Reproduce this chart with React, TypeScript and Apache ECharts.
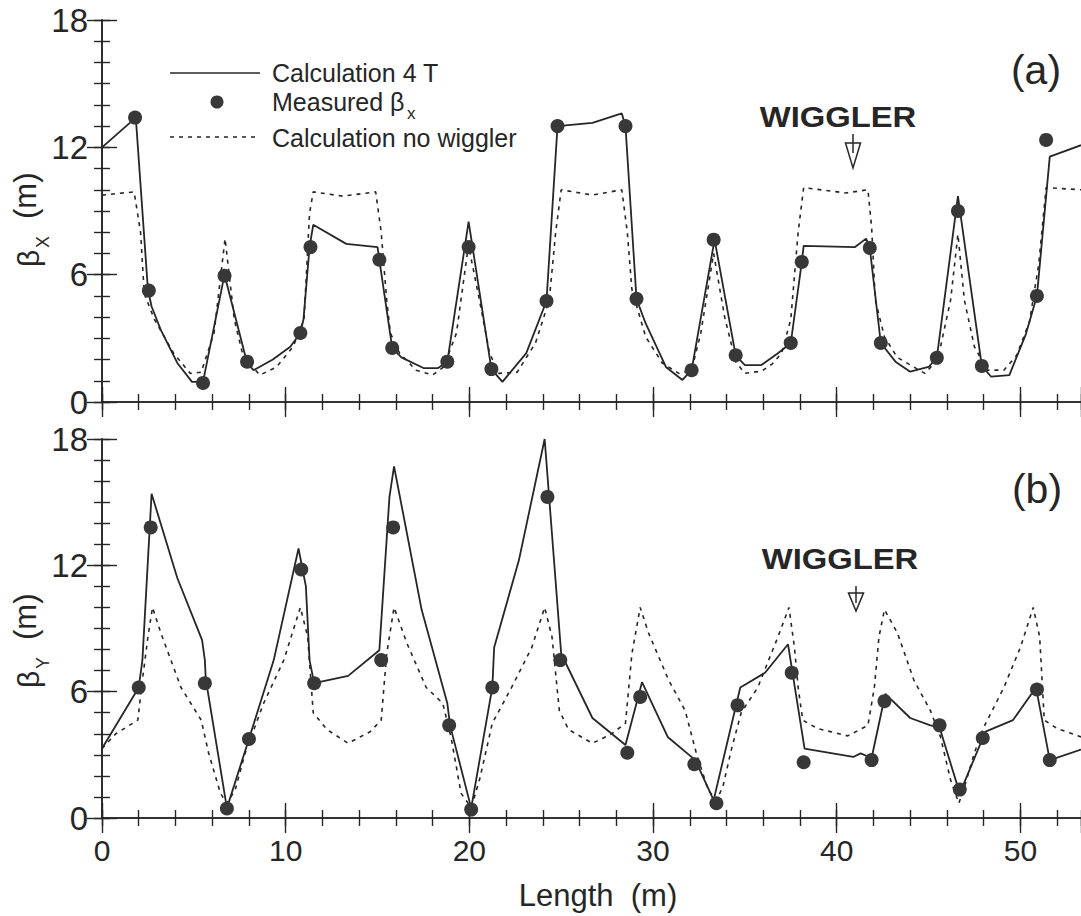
import React, { useEffect, useRef } from 'react';
import * as echarts from 'echarts';

// ---------- data ----------
const X_MAX = 53.3;
const xMajorInterval = 10;
const xMinorInterval = 2;
const yMax = 18;
const yMajorInterval = 6;
const yMinorInterval = 1;

// Panel (a): beta_x
const calcAx: [number, number][] = [
  [0, 12.0], [1.84, 13.4], [2.5, 5.3], [2.7, 4.5], [3.2, 3.4], [4.1, 1.84], [4.9, 0.95], [5.5, 0.95],
  [6.67, 6.0], [7.9, 1.84], [8.25, 1.5], [9.3, 2.0], [10.25, 2.6], [10.8, 3.25], [10.97, 3.9],
  [11.3, 7.3], [11.5, 8.35], [13.3, 7.45], [15.0, 7.3], [15.1, 6.7], [15.8, 2.55], [16.3, 2.1],
  [17.5, 1.6], [18.3, 1.6], [18.8, 1.9], [19.96, 8.5], [21.2, 1.55], [21.8, 0.95], [23.1, 2.3],
  [24.2, 4.76], [24.8, 13.0], [26.7, 13.15], [28.3, 13.6], [28.5, 13.0], [29.1, 4.86], [29.6, 3.7],
  [30.7, 1.65], [31.6, 1.04], [32.1, 1.5], [33.35, 7.65], [34.5, 2.2], [35.0, 1.74], [35.9, 1.74],
  [36.8, 2.3], [37.5, 2.78], [38.1, 6.6], [38.2, 7.36], [41.0, 7.3], [41.6, 7.7], [41.8, 7.26],
  [42.4, 2.78], [43.2, 1.9], [44.0, 1.43], [45.0, 1.65], [45.45, 2.08], [46.6, 9.7], [47.9, 1.7],
  [48.4, 1.2], [49.4, 1.27], [50.3, 3.2], [50.9, 5.0], [51.6, 11.56], [53.3, 12.1],
];
const measAx: [number, number][] = [
  [1.8, 13.4], [2.55, 5.25], [5.5, 0.9], [6.67, 5.95], [7.9, 1.9], [10.8, 3.25], [11.35, 7.3],
  [15.1, 6.7], [15.8, 2.55], [18.8, 1.9], [19.96, 7.3], [21.2, 1.55], [24.2, 4.76], [24.8, 13.0],
  [28.5, 13.0], [29.1, 4.86], [32.1, 1.5], [33.3, 7.65], [34.5, 2.2], [37.5, 2.78], [38.1, 6.6],
  [41.8, 7.26], [42.4, 2.78], [45.45, 2.08], [46.6, 9.0], [47.9, 1.7], [50.9, 5.0], [51.4, 12.35],
];
const noWigAx: [number, number][] = [
  [0, 9.75], [1.75, 9.9], [2.1, 8.0], [2.3, 5.1], [2.85, 3.9], [3.9, 2.3], [4.8, 1.35], [5.4, 1.4],
  [6.1, 3.25], [6.7, 7.7], [7.2, 3.9], [7.7, 2.1], [8.6, 1.27], [9.5, 1.65], [10.4, 2.6], [11.0, 3.9],
  [11.3, 8.9], [11.5, 9.9], [13.1, 9.7], [14.9, 9.9], [15.2, 8.0], [15.5, 4.8], [15.7, 3.25],
  [16.2, 2.3], [17.1, 1.5], [18.0, 1.27], [18.6, 1.65], [19.3, 3.25], [19.95, 7.4], [20.55, 4.8],
  [21.1, 2.3], [21.6, 1.35], [22.6, 1.4], [23.6, 2.78], [24.35, 4.8], [24.7, 8.0], [25.0, 10.0],
  [26.7, 9.75], [28.3, 10.0], [28.6, 8.0], [28.85, 5.3], [29.6, 3.07], [30.5, 1.84], [31.4, 1.35],
  [32.1, 1.5], [32.6, 3.25], [33.3, 7.0], [33.9, 4.0], [34.5, 1.9], [35.0, 1.35], [35.9, 1.45],
  [36.5, 1.8], [37.0, 2.3], [37.5, 3.9], [37.9, 8.0], [38.2, 10.1], [40.5, 9.85], [41.7, 10.0],
  [41.9, 8.25], [42.1, 4.8], [42.6, 3.07], [43.3, 2.1], [44.8, 1.35], [45.5, 2.0], [46.2, 4.8],
  [46.6, 7.9], [46.95, 4.8], [47.5, 2.6], [48.2, 1.5], [49.1, 1.5], [49.8, 2.2], [50.5, 3.8],
  [51.0, 6.5], [51.4, 10.1], [53.3, 10.0],
];

// Panel (b): beta_y
const calcBy: [number, number][] = [
  [0, 3.3], [2.0, 6.2], [2.2, 7.5], [2.7, 15.4], [4.1, 11.4], [5.45, 8.45], [5.6, 7.5], [5.65, 6.6],
  [6.8, 0.47], [8.0, 3.75], [9.35, 7.5], [10.7, 12.8], [11.1, 11.0], [11.3, 7.5], [11.55, 6.4],
  [13.4, 6.75], [15.1, 7.97], [15.65, 15.25], [15.9, 16.7], [17.4, 9.9], [18.8, 5.45], [18.95, 4.4],
  [20.1, 0.47], [21.25, 6.2], [21.35, 8.1], [22.7, 12.25], [24.1, 18.0], [25.0, 7.8], [26.7, 4.75],
  [28.5, 3.47], [29.4, 6.45], [30.8, 3.85], [32.3, 2.75], [33.3, 0.85], [34.75, 6.2], [36.1, 6.9],
  [37.35, 8.25], [38.25, 3.3], [40.9, 2.9], [41.3, 3.07], [41.9, 2.85], [42.65, 5.9], [44.0, 4.75],
  [45.1, 4.4], [45.6, 4.3], [46.7, 1.17], [48.1, 4.1], [49.6, 4.65], [50.85, 6.2], [51.6, 2.75],
  [53.3, 3.25],
];
const measBy: [number, number][] = [
  [2.0, 6.2], [2.65, 13.8], [5.6, 6.4], [6.8, 0.45], [8.0, 3.75], [10.85, 11.8], [11.55, 6.4],
  [15.2, 7.5], [15.85, 13.8], [18.9, 4.4], [20.1, 0.4], [21.25, 6.2], [24.25, 15.25], [24.95, 7.5],
  [28.6, 3.1], [29.3, 5.75], [32.25, 2.55], [33.45, 0.7], [34.6, 5.35], [37.55, 6.9], [38.2, 2.65],
  [41.9, 2.75], [42.6, 5.55], [45.6, 4.4], [46.7, 1.35], [47.95, 3.8], [50.9, 6.1], [51.6, 2.75],
];
const noWigBy: [number, number][] = [
  [0, 3.3], [0.75, 4.0], [1.95, 4.65], [2.2, 6.55], [2.5, 8.6], [2.75, 10.0], [3.2, 8.8], [4.3, 6.2],
  [5.4, 4.65], [5.8, 3.1], [6.45, 1.17], [6.8, 0.7], [7.25, 1.33], [7.8, 3.1], [8.8, 5.45], [9.9, 7.5],
  [10.8, 10.0], [11.2, 8.6], [11.5, 5.0], [12.25, 4.2], [13.4, 3.55], [14.6, 4.1], [15.2, 4.65],
  [15.5, 7.8], [15.9, 10.0], [16.6, 8.3], [17.65, 6.2], [18.55, 5.45], [19.0, 3.85], [19.55, 1.17],
  [20.1, 0.5], [20.55, 1.8], [21.25, 4.5], [22.3, 6.2], [23.4, 8.1], [24.1, 10.0], [24.5, 8.6],
  [24.9, 5.1], [25.4, 4.2], [26.7, 3.55], [27.75, 4.0], [28.5, 4.5], [28.85, 7.8], [29.3, 10.0],
  [29.75, 8.8], [30.85, 6.55], [31.75, 5.1], [32.35, 3.1], [33.0, 1.33], [33.45, 0.85], [33.8, 1.47],
  [34.25, 3.2], [34.8, 5.0], [35.7, 6.2], [36.8, 8.6], [37.4, 10.0], [37.7, 8.1], [37.9, 6.2],
  [38.15, 4.65], [38.95, 4.25], [40.6, 3.9], [41.7, 4.4], [42.05, 6.2], [42.3, 8.6], [42.6, 9.9],
  [43.3, 8.8], [44.2, 6.55], [45.1, 5.1], [45.65, 3.85], [46.2, 1.8], [46.65, 0.7], [46.95, 1.47],
  [47.5, 3.1], [48.0, 4.3], [49.1, 6.2], [50.0, 8.1], [50.7, 10.0], [51.05, 8.6], [51.3, 4.65],
  [52.0, 4.25], [53.3, 3.85],
];

const legendNames = ['Calculation 4 T', 'Measured β', 'Calculation no wiggler'];
const panelLabels = ['(a)', '(b)'];
const yNames = [['β', 'X'], ['β', 'Y']];
const xName = 'Length  (m)';
const annotation = 'WIGGLER';

// ---------- styling ----------
const FONT = "'Liberation Sans', Arial, Helvetica, sans-serif";
const INK = '#262626';
const DOT = '#383838';

function buildOption() {
  const grids = [
    { left: 102, top: 20, width: X_MAX * 18.42, height: 382 },
    { left: 102, top: 439, width: X_MAX * 18.42, height: 379 },
  ];

  const axisLine = { show: true, lineStyle: { color: INK, width: 1.6 } };
  const tickStyle = { color: INK, width: 1.4 };

  const xAxes: any[] = [];
  grids.forEach((_, gi) => {
    const base = { type: 'value', gridIndex: gi, min: 0, max: X_MAX, splitLine: { show: false } };
    for (const pos of ['bottom', 'top']) {
      const showLabels = gi === 1 && pos === 'bottom';
      xAxes.push({
        ...base,
        position: pos,
        interval: xMajorInterval,
        axisLine,
        axisTick: { show: true, inside: true, length: 15, lineStyle: tickStyle },
        axisLabel: showLabels
          ? {
              show: true,
              margin: 17,
              fontSize: 30,
              fontFamily: FONT,
              color: INK,
              showMaxLabel: false,
              formatter: (v: number) => (Math.abs(v % 10) < 1e-6 ? String(v) : ''),
            }
          : { show: false },
      });
      xAxes.push({
        ...base,
        position: pos,
        interval: xMinorInterval,
        axisLine: { show: false },
        axisTick: { show: true, inside: true, length: 8, lineStyle: tickStyle },
        axisLabel: { show: false },
      });
    }
  });

  const yAxes: any[] = [];
  grids.forEach((_, gi) => {
    const base = { type: 'value', gridIndex: gi, min: 0, max: yMax, splitLine: { show: false } };
    for (const pos of ['left', 'right']) {
      yAxes.push({
        ...base,
        position: pos,
        interval: yMajorInterval,
        axisLine,
        axisTick: { show: true, inside: true, length: 15, lineStyle: tickStyle },
        axisLabel:
          pos === 'left'
            ? { show: true, margin: 14, fontSize: 33, fontFamily: FONT, color: INK }
            : { show: false },
      });
      yAxes.push({
        ...base,
        position: pos,
        interval: yMinorInterval,
        axisLine: { show: false },
        axisTick: { show: true, inside: true, length: 8, lineStyle: tickStyle },
        axisLabel: { show: false },
      });
    }
  });

  const mkSeries = (calc: any, meas: any, noWig: any, xi: number, yi: number) => [
    {
      name: legendNames[2],
      type: 'line',
      xAxisIndex: xi,
      yAxisIndex: yi,
      data: noWig,
      symbol: 'none',
      lineStyle: { color: INK, width: 1.6, type: [4, 5] },
      z: 2,
    },
    {
      name: legendNames[0],
      type: 'line',
      xAxisIndex: xi,
      yAxisIndex: yi,
      data: calc,
      symbol: 'none',
      lineStyle: { color: INK, width: 1.8 },
      z: 3,
    },
    {
      name: legendNames[1],
      type: 'scatter',
      xAxisIndex: xi,
      yAxisIndex: yi,
      data: meas,
      symbol: 'circle',
      symbolSize: 14,
      itemStyle: { color: DOT, opacity: 1 },
      z: 4,
    },
  ];

  const txt = (text: string, x: number, y: number, size: number, extra: any = {}, elExtra: any = {}) => ({
    type: 'text',
    x,
    y,
    ...elExtra,
    style: {
      text,
      x: 0,
      y: 0,
      fontSize: size,
      fontFamily: FONT,
      fill: INK,
      align: 'left',
      textAlign: 'left',
      verticalAlign: 'middle',
      textVerticalAlign: 'middle',
      ...extra,
    },
    z: 10,
  });

  const arrow = (cx: number, top: number, headTop: number, tip: number) => [
    {
      type: 'polygon',
      shape: { points: [[cx - 7.5, headTop], [cx + 7.5, headTop], [cx, tip]] },
      style: { fill: '#fff', stroke: INK, lineWidth: 1.5 },
      z: 10,
    },
    {
      type: 'line',
      shape: { x1: cx, y1: top, x2: cx, y2: headTop + 10 },
      style: { stroke: INK, lineWidth: 1.5 },
      z: 11,
    },
  ];

  const yLabel = (names: string[], originY: number) => ({
    type: 'group',
    x: 0,
    y: originY,
    rotation: Math.PI / 2,
    children: [
      txt(names[0], 0, 28, 30),
      txt(names[1], 19, 43, 18),
      txt('(m)', 48, 25, 31),
    ],
    z: 10,
  });

  const graphic: any[] = [
    // legend
    { type: 'line', shape: { x1: 170, y1: 73, x2: 260, y2: 73 }, style: { stroke: INK, lineWidth: 1.6 }, z: 10 },
    { type: 'circle', shape: { cx: 217, cy: 102, r: 6.5 }, style: { fill: DOT }, z: 10 },
    {
      type: 'line',
      shape: { x1: 170, y1: 137, x2: 260, y2: 137 },
      style: { stroke: INK, lineWidth: 1.5, lineDash: [4, 5] },
      z: 10,
    },
    txt(legendNames[0], 272, 73, 25),
    txt(legendNames[1], 272, 102, 25),
    txt('x', 407, 113, 17),
    txt(legendNames[2], 272, 138, 25),
    // panel labels
    txt(panelLabels[0], 1036, 70, 41, { align: 'center', textAlign: 'center' }),
    txt(panelLabels[1], 1037, 489, 41, { align: 'center', textAlign: 'center' }),
    // wiggler annotations
    txt(annotation, 838, 117, 29, { fontWeight: 'bold', align: 'center', textAlign: 'center' }, { scaleX: 1.13 }),
    ...arrow(853, 134, 143, 168),
    txt(annotation, 840, 559, 29, { fontWeight: 'bold', align: 'center', textAlign: 'center' }, { scaleX: 1.13 }),
    ...arrow(856, 586, 593, 611),
    // axis names
    yLabel(yNames[0], 267),
    yLabel(yNames[1], 688),
    txt(xName, 598, 895, 31, { align: 'center', textAlign: 'center' }),
  ];

  return {
    animation: false,
    backgroundColor: '#ffffff',
    grid: grids,
    xAxis: xAxes,
    yAxis: yAxes,
    series: [...mkSeries(calcAx, measAx, noWigAx, 0, 0), ...mkSeries(calcBy, measBy, noWigBy, 4, 4)],
    graphic,
  };
}

export default function App() {
  const ref = useRef<HTMLDivElement>(null);
  useEffect(() => {
    if (!ref.current) return;
    const chart = echarts.init(ref.current, undefined, { renderer: 'svg' });
    chart.setOption(buildOption() as any);
    return () => chart.dispose();
  }, []);
  return (
    <div
      ref={ref}
      style={{ position: 'absolute', left: 0, top: 0, width: 1081, height: 916, background: '#fff' }}
    />
  );
}
